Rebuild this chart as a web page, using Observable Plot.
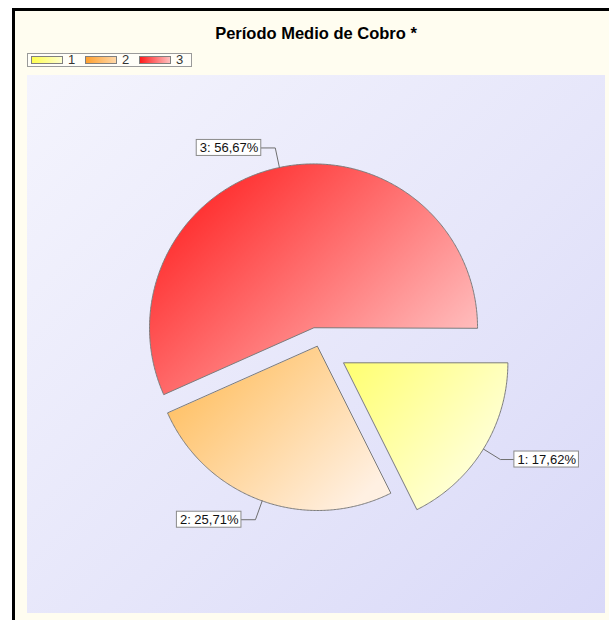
<!DOCTYPE html>
<html>
<head>
<meta charset="utf-8">
<script src="https://cdn.jsdelivr.net/npm/d3@7"></script>
<script src="https://cdn.jsdelivr.net/npm/@observablehq/plot@0.6"></script>
<style>
html,body{margin:0;padding:0;overflow:hidden;background:#fff;width:609px;height:620px;}
#frame{position:absolute;left:12px;top:8px;width:594px;height:609px;border-left:3px solid #000;border-top:3px solid #000;background:#fffdf0;font-family:Arial,"Liberation Sans",sans-serif;}
#title{position:absolute;left:0;width:602px;top:13px;text-align:center;font-weight:bold;font-size:16.5px;line-height:18px;color:#000;}
#legend{position:absolute;left:12px;top:42px;width:163px;height:12px;border:1px solid #9a9a9a;background:#fffef8;}
.sw{position:absolute;top:2px;width:30px;height:6px;border:1px solid #808080;}
.lt{position:absolute;top:-1px;font-size:13px;line-height:14px;color:#333;}
#plot{position:absolute;left:12px;top:64px;}
</style>
</head>
<body>
<div id="frame">
  <div id="title"></div>
  <div id="legend"></div>
  <div id="plot"></div>
</div>
<script>
// ---- data ----
const title = "Período Medio de Cobro *";
const categories = ["1", "2", "3"];
const values = [17.62, 25.71, 56.67];
const labels = ["1: 17,62%", "2: 25,71%", "3: 56,67%"];
// ---- styles ----
const colorStart = ["#ffff70", "#ffb84e", "#ff1212"];
const colorEnd = ["#ffffe6", "#fff0e2", "#ffc0c0"];
const legendStart = ["#ffff50", "#ffa030", "#ff1c1c"];
const legendEnd = ["#ffffd0", "#ffd8a8", "#ffc0c0"];
const explode = [31, 0, 19];

const W = 578, H = 538;
const cx = 290, cy = 271, R = 164;

document.getElementById("title").textContent = title;

// legend
const leg = document.getElementById("legend");
categories.forEach((c, i) => {
  const sw = document.createElement("div");
  sw.className = "sw";
  sw.style.left = (3 + i * 54) + "px";
  sw.style.background = `linear-gradient(to right, ${legendStart[i]}, ${legendEnd[i]})`;
  leg.appendChild(sw);
  const t = document.createElement("div");
  t.className = "lt";
  t.style.left = (40 + i * 54) + "px";
  t.textContent = c;
  leg.appendChild(t);
});

// pie layout (screen angles, clockwise from east)
const arcs = d3.pie().sort(null).startAngle(Math.PI / 2).endAngle(Math.PI / 2 + 2 * Math.PI)(values);
const slices = arcs.map((a, i) => {
  const t0 = a.startAngle - Math.PI / 2, t1 = a.endAngle - Math.PI / 2;
  const tm = (t0 + t1) / 2;
  const ox = cx + explode[i] * Math.cos(tm), oy = cy + explode[i] * Math.sin(tm);
  const n = Math.max(2, Math.ceil((t1 - t0) / (Math.PI / 360)));
  const pts = [{x: ox, y: oy}];
  for (let k = 0; k <= n; k++) {
    const t = t0 + (t1 - t0) * k / n;
    pts.push({x: ox + R * Math.cos(t), y: oy + R * Math.sin(t)});
  }
  return {i, tm, ox, oy, pts};
});

// labels
const ctx = document.createElement("canvas").getContext("2d");
ctx.font = "13px Arial, 'Liberation Sans'";
const leaders = [], boxes = [];
slices.forEach(s => {
  const c = Math.cos(s.tm), sn = Math.sin(s.tm);
  const P = {x: s.ox + R * c, y: s.oy + R * sn};
  const Q = {x: s.ox + (R + 20) * c, y: s.oy + (R + 20) * sn};
  const dir = c >= 0 ? 1 : -1;
  const Rr = {x: Q.x + dir * 14, y: Q.y};
  leaders.push({k: s.i, ...P}, {k: s.i, ...Q}, {k: s.i, ...Rr});
  const w = ctx.measureText(labels[s.i]).width + 6;
  const x1 = dir > 0 ? Rr.x : Rr.x - w;
  boxes.push({label: labels[s.i], x1, x2: x1 + w, y1: Rr.y - 8, y2: Rr.y + 8, xc: x1 + w / 2, yc: Rr.y});
});

const marks = slices.map(s =>
  Plot.line(s.pts, {x: "x", y: "y", curve: "linear-closed", fill: `url(#sg${s.i})`, stroke: "#7c7c7c", strokeWidth: 1})
);
marks.push(Plot.line(leaders, {x: "x", y: "y", z: "k", stroke: "#6f6f6f", strokeWidth: 1}));
marks.push(Plot.rect(boxes, {x1: "x1", x2: "x2", y1: "y1", y2: "y2", fill: "#ffffff", stroke: "#8a8a8a", strokeWidth: 1}));
marks.push(Plot.text(boxes, {x: "xc", y: "yc", text: "label", fill: "#111", fontSize: 13, fontFamily: "Arial, 'Liberation Sans', sans-serif"}));

const svg = Plot.plot({
  width: W, height: H,
  margin: 0,
  x: {domain: [0, W], range: [0, W], axis: null},
  y: {domain: [0, H], range: [0, H], axis: null},
  style: {background: "linear-gradient(135deg, #f4f4fd 0%, #e6e6fa 55%, #d9d9f8 100%)", fontFamily: "Arial, 'Liberation Sans', sans-serif", fontSize: "13px", overflow: "visible"},
  marks
});

const defs = d3.select(svg).insert("defs", ":first-child");
slices.forEach(s => {
  const g = defs.append("linearGradient").attr("id", `sg${s.i}`)
    .attr("x1", 0).attr("y1", 0).attr("x2", 1).attr("y2", 0.75);
  g.append("stop").attr("offset", "0%").attr("stop-color", colorStart[s.i]);
  g.append("stop").attr("offset", "100%").attr("stop-color", colorEnd[s.i]);
});

document.getElementById("plot").appendChild(svg);
</script>
</body>
</html>
